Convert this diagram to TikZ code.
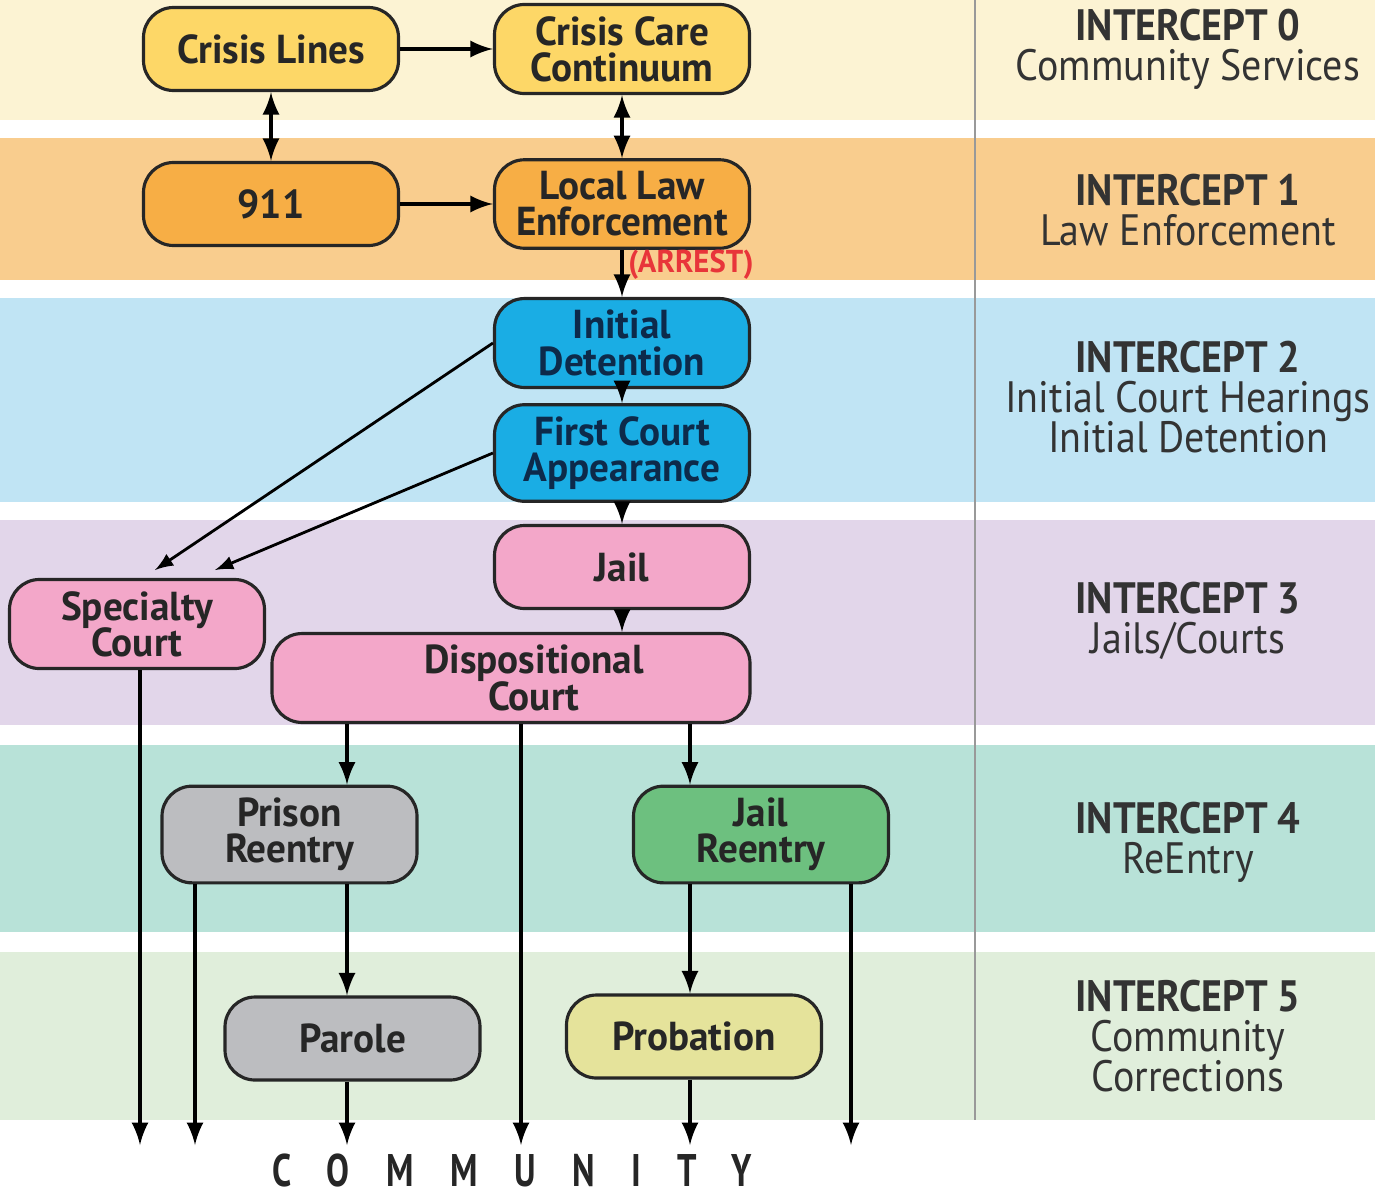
\documentclass[tikz,border=0pt]{standalone}
\usepackage{fontspec}
\setmainfont{PT Sans}
\newfontfamily\boxfont[FakeStretch=0.97]{PT Sans}
\newfontfamily\sidefont[FakeStretch=0.91]{PT Sans}
\newfontfamily\basefont[FakeStretch=0.75,LetterSpace=80]{PT Sans}
\definecolor{band0}{HTML}{FCF3D3}
\definecolor{band1}{HTML}{F9CD8E}
\definecolor{band2}{HTML}{C0E4F4}
\definecolor{band3}{HTML}{E2D6EA}
\definecolor{band4}{HTML}{B8E2D8}
\definecolor{band5}{HTML}{E0EEDB}
\definecolor{fill0}{HTML}{FDD767}
\definecolor{fill1}{HTML}{F7AE45}
\definecolor{fill2}{HTML}{1AADE4}
\definecolor{fill3}{HTML}{F3A7C9}
\definecolor{fill4}{HTML}{BCBDC0}
\definecolor{fill5}{HTML}{6DC07F}
\definecolor{fill6}{HTML}{E5E39B}
\definecolor{navy}{HTML}{0D2A4A}
\definecolor{arrest}{HTML}{E8353A}

\begin{document}
\setlength{\lineskiplimit}{-4pt}
\begin{tikzpicture}
					\useasboundingbox (0,0) rectangle (13.75,-11.98);
					\fill[band0] (0,0) rectangle (13.75,-1.20);
					\fill[band1] (0,-1.38) rectangle (13.75,-2.80);
					\fill[band2] (0,-2.98) rectangle (13.75,-5.02);
					\fill[band3] (0,-5.20) rectangle (13.75,-7.25);
					\fill[band4] (0,-7.45) rectangle (13.75,-9.32);
					\fill[band5] (0,-9.52) rectangle (13.75,-11.20);
					\draw[black!40, line width=0.8pt] (9.75,0) -- (9.75,-11.20);
					\tikzstyle{every node}=[];
					\tikzstyle{box}=[draw=black!85, line width=0.9pt, rounded corners=0.3cm, minimum width=2.55cm, minimum height=0.83cm, align=center, text=black!85, font=\boxfont\bfseries\fontsize{11.5}{10.3}\selectfont];
					\tikzstyle{side}=[align=center, text=black!80, font=\sidefont\fontsize{12.5}{11.3}\selectfont];
					\tikzstyle{link}=[-latex, line width=1.2pt];
					\path (2.71,-0.49) node[box, fill=fill0] (v0) {Crisis Lines};
					\path (6.22,-0.49) node[box, fill=fill0] (v1) {Crisis Care\\Continuum};
					\path (2.71,-2.04) node[box, fill=fill1] (v2) {911};
					\path (6.22,-2.04) node[box, fill=fill1] (v3) {Local Law\\Enforcement};
					\path (6.22,-3.43) node[box, fill=fill2, text=navy] (v4) {Initial\\Detention};
					\path (6.22,-4.53) node[box, fill=fill2, text=navy] (v5) {First Court\\Appearance};
					\path (6.22,-5.67) node[box, fill=fill3] (v6) {Jail};
					\path (5.11,-6.78) node[box, fill=fill3, minimum width=4.78cm] (v7) {\hspace*{0.46cm}Dispositional\\\hspace*{0.46cm}Court};
					\path (1.37,-6.24) node[box, fill=fill3] (v8) {Specialty\\Court};
					\path (2.895,-8.345) node[box, fill=fill4] (v9) {Prison\\Reentry};
					\path (7.61,-8.345) node[box, fill=fill5] (v10) {Jail\\Reentry};
					\path (3.525,-10.385) node[box, fill=fill4] (v11) {Parole};
					\path (6.94,-10.365) node[box, fill=fill6] (v12) {Probation};
					\path (6.91,-2.65) node[text=arrest, font=\boxfont\bfseries\fontsize{9}{9}\selectfont] (v13) {(ARREST)};
					\path (11.88,-0.49) node[side] (v14) {{\bfseries INTERCEPT 0}\\Community Services};
					\path (11.88,-2.10) node[side] (v15) {{\bfseries INTERCEPT 1}\\Law Enforcement};
					\path (11.88,-3.97) node[side] (v16) {{\bfseries INTERCEPT 2}\\Initial Court Hearings\\Initial Detention};
					\path (11.88,-6.21) node[side] (v17) {{\bfseries INTERCEPT 3}\\Jails/Courts};
					\path (11.88,-8.42) node[side] (v18) {{\bfseries INTERCEPT 4}\\ReEntry};
					\path (11.88,-10.36) node[side] (v19) {{\bfseries INTERCEPT 5}\\Community\\Corrections};
					\path (5.12,-11.70) node[text=black!85, font=\basefont\bfseries\fontsize{13}{13}\selectfont] (v20) {COMMUNITY};
					\coordinate (a0) at (1.55,-5.70);
					\coordinate (a1) at (2.15,-5.70);
					\coordinate (c0) at (1.40,-11.45);
					\coordinate (c1) at (1.95,-11.45);
					\coordinate (c2) at (3.47,-11.45);
					\coordinate (c3) at (5.21,-11.45);
					\coordinate (c4) at (6.90,-11.45);
					\coordinate (c5) at (8.51,-11.45);
					\draw[link] (v0) -- (v1);
					\draw[link] (v2) -- (v3);
					\draw[latex-latex, line width=1.2pt] (v0) -- (v2);
					\draw[latex-latex, line width=1.2pt] (v1) -- (v3);
					\draw[link] (v3) -- (v4);
					\draw[link] (v4) -- (v5);
					\draw[link] (v5) -- (v6);
					\draw[link] (v6) -- (v7.north -| v6);
					\draw[-latex, line width=0.8pt] (v4.west) -- (a0);
					\draw[-latex, line width=0.8pt] (v5.west) -- (a1);
					\draw[link] (v8.south -| c0) -- (c0);
					\draw[link] (v7.south -| c2) -- (v9.north -| c2);
					\draw[link] (v7.south -| c3) -- (c3);
					\draw[link] (v7.south -| c4) -- (v10.north -| c4);
					\draw[link] (v9.south -| c1) -- (c1);
					\draw[link] (v9.south -| c2) -- (v11.north -| c2);
					\draw[link] (v11.south -| c2) -- (c2);
					\draw[link] (v10.south -| c4) -- (v12.north -| c4);
					\draw[link] (v10.south -| c5) -- (c5);
					\draw[link] (v12.south -| c4) -- (c4);
\end{tikzpicture}
\end{document}
